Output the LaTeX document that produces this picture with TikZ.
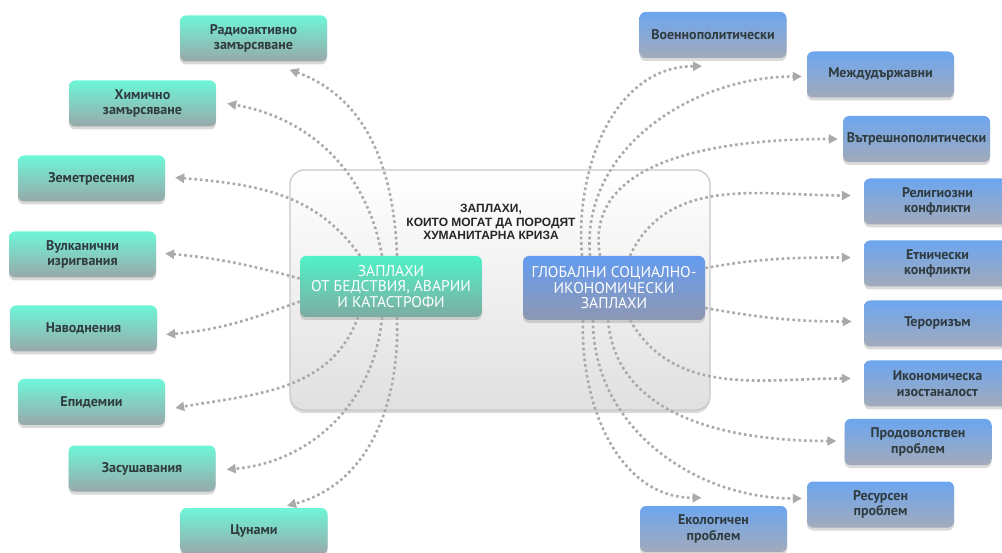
\documentclass[tikz,border=0pt]{standalone}
\usepackage{fontspec}
\setmainfont{PT Sans}
\newfontfamily\titlefont{Liberation Sans}
\usepackage{tikz}
\usetikzlibrary{calc, shadows}
\usetikzlibrary{arrows.meta}

\definecolor{greentop}{RGB}{110,246,216}
\definecolor{greenbot}{RGB}{152,168,170}
\definecolor{bluetop}{RGB}{108,166,240}
\definecolor{bluebot}{RGB}{162,170,186}
\definecolor{cgreentop}{RGB}{80,242,200}
\definecolor{cgreenbot}{RGB}{125,172,162}
\definecolor{cbluetop}{RGB}{100,155,240}
\definecolor{cbluebot}{RGB}{142,152,178}
\definecolor{labeltext}{RGB}{47,59,62}
\definecolor{dotgray}{RGB}{170,170,170}

\begin{document}
\begin{tikzpicture}[x=1pt,y=-1pt]
                \tikzset{box/.style = {rounded corners=6pt, minimum width=147pt, minimum height=46pt,
                    align=center, font=\fontsize{14}{15.5}\selectfont\bfseries, text=labeltext,
                    drop shadow={opacity=0.3, shadow xshift=0pt, shadow yshift=-3pt}}}
                \tikzset{gbox/.style = {box, top color=greentop, bottom color=greenbot}}
                \tikzset{bbox/.style = {box, top color=bluetop, bottom color=bluebot}}
                \tikzset{inner/.style = {rounded corners=6pt, minimum width=182pt, align=center,
                    font=\fontsize{15.5}{15.5}\selectfont, text=white,
                    drop shadow={opacity=0.3, shadow xshift=0pt, shadow yshift=-3pt}}}
                \tikzset{dots/.style = {dotgray, line width=2.6pt, dash pattern=on 2.6pt off 2.9pt,
                    -{Triangle[length=9pt,width=9pt]}}}

                \useasboundingbox (0,0) rectangle (1002,553);

                % frame
                \node (main) at (500,290) [rounded corners=14pt, minimum width=420pt, minimum height=240pt,
                    draw=black!22, line width=1.2pt, top color=white, bottom color=black!12,
                    drop shadow={opacity=0.3, shadow xshift=0pt, shadow yshift=-3pt}] {};
                \node (title) at (491,222) [align=center, font=\titlefont\fontsize{12}{13.5}\selectfont\bfseries,
                    text=black!85] {ЗАПЛАХИ,\\КОИТО МОГАТ ДА ПОРОДЯТ\\ХУМАНИТАРНА КРИЗА};

                \node (green) at (391,286.5) [inner, minimum height=61pt, top color=cgreentop, bottom color=cgreenbot]
                    {ЗАПЛАХИ\\ОТ БЕДСТВИЯ, АВАРИИ\\И КАТАСТРОФИ};
                \node (blue) at (614,288) [inner, minimum height=64pt, top color=cbluetop, bottom color=cbluebot]
                    {ГЛОБАЛНИ СОЦИАЛНО-\\ИКОНОМИЧЕСКИ\\ЗАПЛАХИ};

                % left
                \node (radio) at (253.5,38.5) [gbox] {Радиоактивно\\замърсяване};
                \node (chem) at (142.5,103.5) [gbox] {Химично\\замърсяване};
                \node (zem) at (91.5,178.5) [gbox] {Земетресения};
                \node (vulk) at (82.5,254.5) [gbox] {Вулканични\\изригвания};
                \node (navod) at (83.5,328.5) [gbox] {Наводнения};
                \node (epid) at (91.5,402) [gbox] {Епидемии};
                \node (zasush) at (142,468.5) [gbox] {Засушавания};
                \node (tsun) at (254,531) [gbox] {Цунами};

                % right
                \node (voen) at (713,35) [bbox] {Военнополитически};
                \node (mezh) at (880.5,74.5) [bbox] {Междудържавни};
                \node (vatr) at (916.5,139) [bbox] {Вътрешнополитически};
                \node (relig) at (937.5,201.5) [bbox] {Религиозни\\конфликти};
                \node (etn) at (937.5,263.5) [bbox] {Етнически\\конфликти};
                \node (terr) at (937.5,323.5) [bbox] {Тероризъм};
                \node (ikon) at (937.5,383.5) [bbox] {Икономическа\\изостаналост};
                \node (prod) at (918,442) [bbox] {Продоволствен\\проблем};
                \node (resurs) at (880.5,504.5) [bbox] {Ресурсен\\проблем};
                \node (ekol) at (713.5,529) [bbox] {Екологичен\\проблем};

                % arrows
                \draw[dots] ($(green.north)+(6,0)$) to[out=92,in=-20] ($(radio.south)+(36,8)$);
                \draw[dots] ($(green.north)+(-9,0)$) to[out=100,in=-10] ($(chem.east)+(11,0)$);
                \draw[dots] ($(green.north)+(-31,0)$) to[out=125,in=-5] ($(zem.east)+(10,-1)$);
                \draw[dots] ($(green.west)+(0,-8)$) to[out=165,in=-5] ($(vulk.east)+(9,-1)$);
                \draw[dots] ($(green.west)+(0,15)$) to[out=200,in=5] ($(navod.east)+(9,6)$);
                \draw[dots] ($(green.south)+(-33,0)$) to[out=250,in=10] ($(epid.east)+(10,6)$);
                \draw[dots] ($(green.south)+(-9,0)$) to[out=265,in=5] ($(zasush.east)+(11,1)$);
                \draw[dots] ($(green.south)+(6,0)$) to[out=272,in=15] ($(tsun.north)+(33,-2)$);

                \draw[dots] ($(blue.north)+(-32,0)$) to[out=95,in=180] ($(voen.south)+(-11,8)$);
                \draw[dots] ($(blue.north)+(-24,0)$) to[out=95,in=180] ($(mezh.west)+(-5,2)$);
                \draw[dots] ($(blue.north)+(-14,0)$) to[out=100,in=180] ($(vatr.west)+(-5,0)$);
                \draw[dots] ($(blue.north)+(16,0)$) to[out=65,in=180] ($(relig.west)+(-13,-6)$);
                \draw[dots] ($(blue.east)+(0,-20)$) to[out=10,in=180] ($(etn.west)+(-13,-6)$);
                \draw[dots] ($(blue.east)+(0,20)$) to[out=-10,in=180] ($(terr.west)+(-12,-2)$);
                \draw[dots] ($(blue.south)+(16,0)$) to[out=-60,in=180] ($(ikon.west)+(-13,-5)$);
                \draw[dots] ($(blue.south)+(-6,0)$) to[out=-85,in=180] ($(prod.west)+(-8,-1)$);
                \draw[dots] ($(blue.south)+(-21,0)$) to[out=-90,in=180] ($(resurs.west)+(-5,-6)$);
                \draw[dots] ($(blue.south)+(-31,0)$) to[out=-92,in=180] ($(ekol.north)+(-12,-8)$);
\end{tikzpicture}
\end{document}
